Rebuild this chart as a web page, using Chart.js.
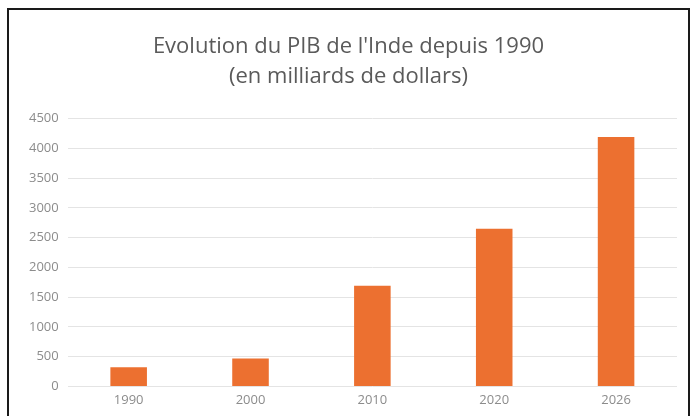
<!DOCTYPE html>
<html>
<head>
<meta charset="utf-8">
<script src="https://cdn.jsdelivr.net/npm/chart.js@4"></script>
<style>
  html, body { margin: 0; padding: 0; background: #fff; overflow: hidden; }
  #frame {
    position: absolute; left: 7px; top: 8px; width: 679px; height: 420px;
    border: 2px solid #1a1a1a; background: #fff;
  }
  #wrap { position: absolute; left: 0; top: 0; width: 679px; height: 406px; }
</style>
</head>
<body>
<div id="frame"><div id="wrap"><canvas id="pibChart"></canvas></div></div>
<script>
// Données : PIB de l'Inde (milliards de dollars)
const years = ['1990', '2000', '2010', '2020', '2026'];
const gdpValues = [320, 470, 1690, 2650, 4190];
const titleLines = ['Evolution du PIB de l\'Inde depuis 1990', '(en milliards de dollars)'];

// Initialize bar chart
function initChart() {
    const ctx = document.getElementById('pibChart').getContext('2d');
    new Chart(ctx, {
        type: 'bar',
        data: {
            labels: years,
            datasets: [{
                label: 'PIB',
                data: gdpValues,
                backgroundColor: '#ec7030',
                borderWidth: 0,
                barPercentage: 0.3,
                categoryPercentage: 1
            }]
        },
        options: {
            responsive: true,
            maintainAspectRatio: false,
            animation: false,
            layout: { padding: { left: 11, right: 11, top: 0, bottom: 2 } },
            plugins: {
                legend: { display: false },
                tooltip: { enabled: false },
                title: {
                    display: true,
                    text: titleLines,
                    color: '#5a5a5a',
                    font: { family: 'Open Sans', size: 22, weight: 'normal', lineHeight: 1.4 },
                    padding: { top: 21, bottom: 26 }
                }
            },
            scales: {
                x: {
                    grid: { display: false, drawTicks: false },
                    border: { display: false },
                    ticks: { color: '#8c8c8c', font: { family: 'Open Sans', size: 13 }, padding: 6 }
                },
                y: {
                    min: 0,
                    max: 4500,
                    grid: { color: '#e4e4e4', lineWidth: 1, drawTicks: false },
                    border: { display: false },
                    ticks: {
                        stepSize: 500,
                        color: '#8c8c8c',
                        font: { family: 'Open Sans', size: 13 },
                        padding: 9,
                        callback: function(value) { return String(value); }
                    }
                }
            }
        }
    });
}

document.addEventListener('DOMContentLoaded', function() {
    initChart();
});
</script>
</body>
</html>
